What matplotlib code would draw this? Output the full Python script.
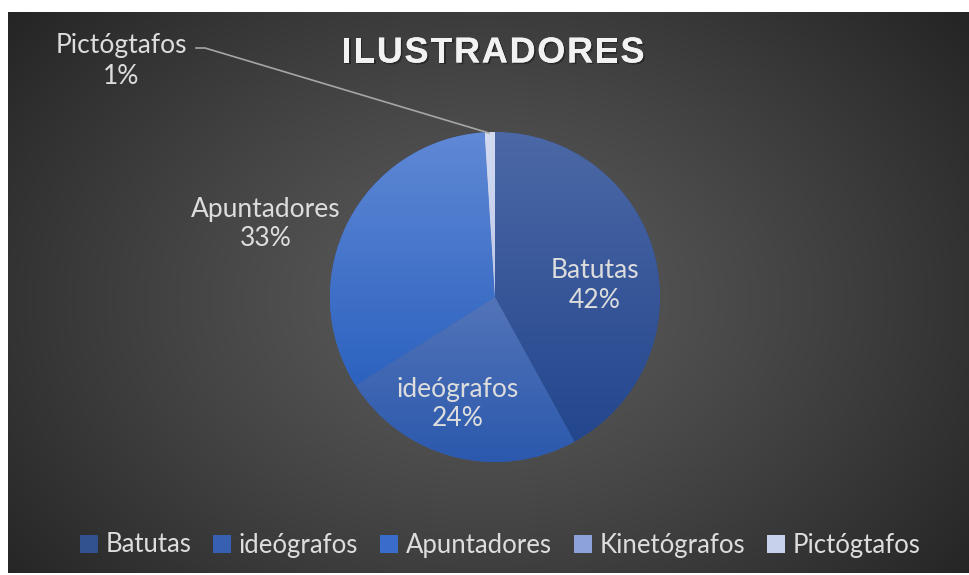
import numpy as np
import matplotlib.pyplot as plt
import matplotlib.patheffects as pe
from matplotlib.colors import LinearSegmentedColormap

categorias = ["Batutas", "ideógrafos", "Apuntadores", "Kinetógrafos", "Pictógtafos"]
porcentajes = [42, 24, 33, 0, 1]
tonos_claros = ["#4C68A6", "#5374B8", "#6089D6", "#9EB1E0", "#D3DBF1"]
tonos_oscuros = ["#23468D", "#2B59AD", "#2C62BF", "#7F96D0", "#BDC8E8"]
colores_medios = ["#31518F", "#3760B3", "#3A6CCB", "#8DA2D8", "#C8D1EC"]

W, H = 969, 575
fig = plt.figure(figsize=(W / 100, H / 100), dpi=100)
fig.patch.set_facecolor("white")

# fondo con degradado radial
bg = fig.add_axes([8 / W, 2 / H, (W - 8) / W, (H - 14) / H])
ny, nx = 561, 961
yy, xx = np.mgrid[0:ny, 0:nx]
d = np.sqrt(((xx - 477) / 620.0) ** 2 + ((yy - 288) / 460.0) ** 2)
v = (92 - 56 * np.clip(d, 0, 1) ** 1.2) / 255.0
bg.imshow(np.dstack([v, v, v]), aspect="auto", interpolation="bilinear")
bg.axis("off")

ax = fig.add_axes([0, 0, 1, 1])
ax.patch.set_alpha(0)
cx, cy, R = 495, H - 297, 165
wedges, _ = ax.pie(porcentajes, colors=colores_medios, startangle=90,
                   counterclock=False, center=(cx, cy), radius=R,
                   wedgeprops=dict(linewidth=0))

for w, c1, c2 in zip(wedges, tonos_claros, tonos_oscuros):
    if abs(w.theta2 - w.theta1) < 1e-6:
        continue
    x0, y0, x1, y1 = w.get_path().get_extents().extents
    cm = LinearSegmentedColormap.from_list("g", [c2, c1])
    im = ax.imshow(np.linspace(0, 1, 256).reshape(-1, 1), cmap=cm, origin="lower",
                   extent=(x0, x1, y0, y1), aspect="auto", zorder=2)
    im.set_clip_path(w)

ax.set_xlim(0, W)
ax.set_ylim(0, H)
ax.set_aspect("equal")
ax.axis("off")

fuente = "Lato"
txt = dict(fontsize=19, family=fuente, color="#DDDDDD", ha="center",
           va="center", linespacing=1.25, zorder=5)
pos_etiquetas = [(595, 286), (458, 404), (266, 224), None, (121, 61)]
for nombre, val, p in zip(categorias, porcentajes, pos_etiquetas):
    if p is None:
        continue
    ax.text(p[0], H - p[1], f"{nombre}\n{val}%", **txt)

ax.plot([196, 205, 489], [H - 48, H - 48, H - 133], color="#A6A6A6", lw=1.2, zorder=4)

# titulo con espaciado de letras
sombra = [pe.withSimplePatchShadow(offset=(1.2, -1.2), shadow_rgbFace="black", alpha=0.35), pe.Normal()]
titulo = "ILUSTRADORES"
letras = [ax.text(0, H - 53, ch, fontsize=26, fontweight="bold", family="Liberation Sans",
                  color="#F2F2F2", ha="left", va="center", path_effects=sombra, zorder=5)
          for ch in titulo]
r = fig.canvas.get_renderer()
anchos = [t.get_window_extent(r).width for t in letras]
espacio = 1.7
x = 493 - (sum(anchos) + espacio * (len(anchos) - 1)) / 2
for t, a in zip(letras, anchos):
    t.set_x(x)
    x += a + espacio

leg = fig.legend(wedges, categorias, loc="center", bbox_to_anchor=(500 / W, 30 / H),
                 ncol=5, frameon=False, handlelength=0.7, handleheight=0.7,
                 handletextpad=0.3, columnspacing=0.85,
                 prop=dict(family=fuente, size=18.5))
for t in leg.get_texts():
    t.set_color("#DDDDDD")

fig.savefig("out.png", dpi=100)
